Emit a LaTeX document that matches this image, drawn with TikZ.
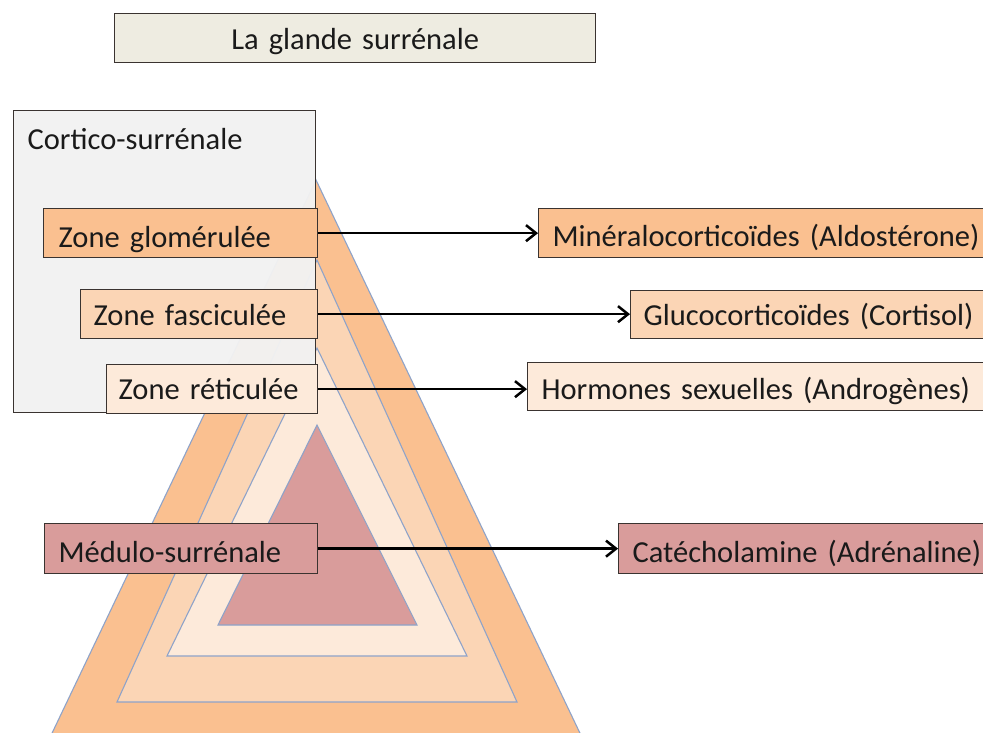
\documentclass[tikz,border=0pt]{standalone}
\usepackage{fontspec}
\setmainfont{Carlito}
\usetikzlibrary{arrows.meta}
\definecolor{orA}{HTML}{FAC090}
\definecolor{orB}{HTML}{FBD5B5}
\definecolor{orC}{HTML}{FDEADA}
\definecolor{rose}{HTML}{D99C9B}
\definecolor{tan}{HTML}{EEECE1}
\definecolor{greybox}{HTML}{F2F2F2}
\definecolor{triline}{HTML}{8EA3C9}
\definecolor{boxline}{HTML}{3A3330}
\definecolor{txt}{HTML}{1A1A1A}
\tikzset{
  box/.style={draw=boxline, line width=1.3pt, inner xsep=14pt, inner ysep=0pt,
    anchor=north west, align=left, text=txt,
    font=\fontsize{30.5}{33}\selectfont},
  tri/.style={draw=triline, line width=1.1pt, line join=miter},
  conn/.style={line width=2.5pt, -{Straight Barb[length=10pt,width=16pt,line width=2.5pt]}}
}
\begin{document}
\begin{tikzpicture}[x=1pt,y=-1pt]
\useasboundingbox (0,0) rectangle (983,733);
\clip (0,0) rectangle (983,733);
\fill[white] (0,0) rectangle (983,733);
% triangles
\filldraw[tri, fill=orA] (316,180) -- (44,750) -- (588,750) -- cycle;
\filldraw[tri, fill=orB] (317,260) -- (117,702) -- (517,702) -- cycle;
\filldraw[tri, fill=orC] (317,348) -- (167,656) -- (467,656) -- cycle;
\filldraw[tri, fill=rose] (317,425) -- (218,625) -- (417,625) -- cycle;
% title
\node[box, fill=tan, text width=453pt, align=center, text height=36pt, text depth=13pt] (title) at (114,13) {La glande surrénale};
% cortico
\node[box, fill=greybox, fill opacity=0.96, text opacity=1, text width=274pt, text height=39pt, text depth=263pt] (cortico) at (13,110) {Cortico-surrénale};
% zones
\node[box, fill=orA, inner xsep=15pt, text width=244pt, text height=39pt, text depth=10pt] (zg) at (43,208) {Zone glomérulée};
\node[box, fill=orB, inner xsep=13pt, text width=211pt, text height=36pt, text depth=13pt] (zf) at (80,289) {Zone fasciculée};
\node[box, fill=orC, inner xsep=12pt, text width=187pt, text height=35pt, text depth=14pt] (zr) at (106,364) {Zone réticulée};
\node[box, fill=rose, inner xsep=14pt, text width=245pt, text height=39pt, text depth=11pt] (md) at (44,523) {Médulo-surrénale};
% products (right edges run past the page, as in the reference)
\node[box, fill=orA, text width=500pt, text height=38pt, text depth=11pt] (mc) at (538,208) {Minéralocorticoïdes (Aldostérone)};
\node[box, fill=orB, inner xsep=13pt, text width=420pt, text height=35pt, text depth=13pt] (gc) at (630,290) {Glucocorticoïdes (Cortisol)};
\node[box, fill=orC, text width=500pt, text height=37pt, text depth=11pt] (hs) at (527,362) {Hormones sexuelles (Androgènes)};
\node[box, fill=rose, text width=420pt, text height=39pt, text depth=11pt] (ca) at (618,523) {Catécholamine (Adrénaline)};
% connectors
\draw[conn] (zg.east) -- (zg.east -| mc.west);
\draw[conn] (zf.east) -- (zf.east -| gc.west);
\draw[conn] (zr.east) -- (zr.east -| hs.west);
\draw[conn] (md.east) -- (md.east -| ca.west);
\end{tikzpicture}
\end{document}
